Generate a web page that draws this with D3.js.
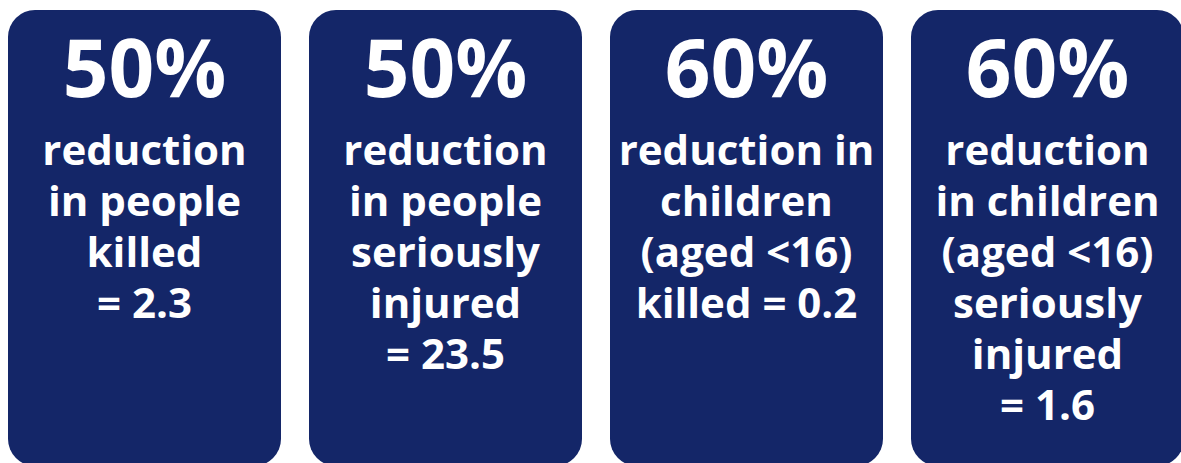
<!DOCTYPE html>
<html>
<head>
<meta charset="utf-8">
<script src="https://cdn.jsdelivr.net/npm/d3@7"></script>
<style>
  html, body { margin: 0; padding: 0; background: #fff; overflow: hidden; }
  svg { display: block; }
</style>
</head>
<body>
<svg id="chart"></svg>
<script>
// reduction targets, one card each
const percents = [50, 50, 60, 60];
const labelLines = [
    ['reduction', 'in people', 'killed'],
    ['reduction', 'in people', 'seriously', 'injured'],
    ['reduction in', 'children', '(aged <16)', 'killed'],
    ['reduction', 'in children', '(aged <16)', 'seriously', 'injured']
];
const targetValues = [2.3, 23.5, 0.2, 1.6];
// whether "= value" sits on the last label line or its own line
const valueInline = [false, false, true, false];

const width = 1181, height = 463;
const svg = d3.select('#chart')
    .attr('width', width)
    .attr('height', height);

const x = d3.scaleBand()
    .domain(d3.range(percents.length))
    .range([8, 1184])
    .paddingInner(28 / 301);

const cardTop = 10, cardBottom = 466;
const pctBaseline = 97, lineStart = 165, lineStep = 51;

const cards = svg.selectAll('g.card')
    .data(percents)
    .join('g')
    .attr('class', 'card')
    .attr('transform', (d, i) => `translate(${x(i)},0)`);

cards.append('rect')
    .attr('x', 0)
    .attr('y', cardTop)
    .attr('width', x.bandwidth())
    .attr('height', cardBottom - cardTop)
    .attr('rx', 27)
    .attr('ry', 27)
    .style('fill', '#142668');

cards.append('text')
    .attr('x', x.bandwidth() / 2)
    .attr('y', pctBaseline)
    .attr('text-anchor', 'middle')
    .style('font-family', '"Open Sans", sans-serif')
    .style('font-weight', 700)
    .style('font-size', '80px')
    .style('fill', '#fff')
    .text(d => d + '%');

/**
 * Build the text lines for every card,
 * value goes on the last line or a line of its own
 */
cards.each(function(d, i) {
    let lines = labelLines[i].slice();
    let valueText = '= ' + targetValues[i];
    if (valueInline[i]) {
        lines[lines.length - 1] += ' ' + valueText;
    } else {
        lines.push(valueText);
    }
    d3.select(this).selectAll('text.line')
        .data(lines)
        .join('text')
        .attr('class', 'line')
        .attr('x', x.bandwidth() / 2)
        .attr('y', (l, k) => lineStart + k * lineStep)
        .attr('text-anchor', 'middle')
        .style('font-family', '"Open Sans", sans-serif')
        .style('font-weight', 700)
        .style('font-size', '42px')
        .style('fill', '#fff')
        .text(l => l);
});
</script>
</body>
</html>
